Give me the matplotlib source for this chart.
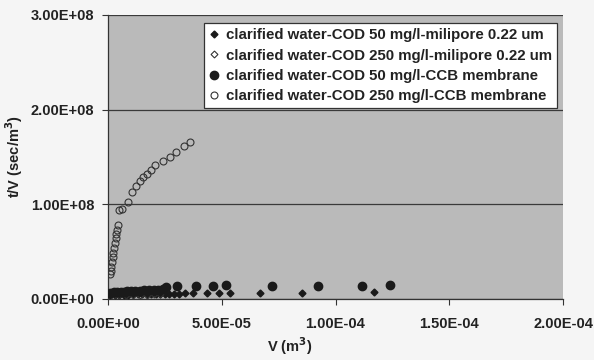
import matplotlib
matplotlib.use("Agg")
import matplotlib.pyplot as plt
from matplotlib.ticker import FixedLocator, FuncFormatter

plt.rcParams['font.family'] = ['Liberation Sans', 'DejaVu Sans']
plt.rcParams['font.weight'] = 'bold'

# Filtered volume V (m^3) and t/V (sec/m^3) for each run
v_mili50 = [0.1e-5, 0.3e-5, 0.5e-5, 0.7e-5, 0.9e-5, 1.1e-5, 1.3e-5, 1.5e-5, 1.7e-5, 1.9e-5,
            2.1e-5, 2.3e-5, 2.5e-5, 2.7e-5, 2.9e-5, 3.1e-5, 3.38e-5, 3.73e-5, 4.33e-5, 4.9e-5,
            5.35e-5, 6.67e-5, 8.54e-5, 11.68e-5]
tv_mili50 = [4.0e6, 4.2e6, 4.3e6, 4.5e6, 4.6e6, 4.8e6, 4.9e6, 5.0e6, 5.1e6, 5.2e6,
             5.3e6, 5.4e6, 5.5e6, 5.6e6, 5.7e6, 5.8e6, 6.0e6, 6.0e6, 6.2e6, 6.3e6,
             6.3e6, 6.0e6, 6.6e6, 7.7e6]

v_mili250 = [0.2e-5, 0.5e-5, 0.8e-5, 1.1e-5, 1.4e-5, 1.7e-5, 2.0e-5, 2.3e-5]
tv_mili250 = [3.5e6, 3.8e6, 4.0e6, 4.2e6, 4.4e6, 4.6e6, 4.8e6, 5.0e6]

v_ccb50 = [0.1e-5, 0.25e-5, 0.4e-5, 0.55e-5, 0.7e-5, 0.85e-5, 1.0e-5, 1.2e-5, 1.4e-5, 1.6e-5,
           1.8e-5, 2.0e-5, 2.2e-5, 2.4e-5, 2.57e-5, 3.03e-5, 3.86e-5, 4.6e-5, 5.2e-5,
           7.21e-5, 9.22e-5, 11.17e-5, 12.4e-5]
tv_ccb50 = [6.5e6, 7.0e6, 7.2e6, 7.5e6, 7.8e6, 8.0e6, 8.2e6, 8.5e6, 8.8e6, 9.0e6,
            9.3e6, 9.6e6, 1.0e7, 1.05e7, 1.3e7, 1.4e7, 1.35e7, 1.4e7, 1.45e7,
            1.35e7, 1.37e7, 1.42e7, 1.47e7]

v_ccb250 = [0.09e-5, 0.12e-5, 0.15e-5, 0.18e-5, 0.21e-5, 0.24e-5, 0.27e-5, 0.30e-5, 0.33e-5,
            0.36e-5, 0.39e-5, 0.42e-5, 0.50e-5, 0.60e-5, 0.89e-5, 1.04e-5, 1.23e-5, 1.40e-5,
            1.55e-5, 1.72e-5, 1.87e-5, 2.06e-5, 2.43e-5, 2.72e-5, 3.01e-5, 3.33e-5, 3.60e-5]
tv_ccb250 = [2.6e7, 3.0e7, 3.4e7, 3.9e7, 4.4e7, 4.9e7, 5.4e7, 5.9e7, 6.4e7,
             6.9e7, 7.3e7, 7.8e7, 9.4e7, 9.5e7, 1.02e8, 1.13e8, 1.19e8, 1.245e8,
             1.29e8, 1.32e8, 1.36e8, 1.42e8, 1.46e8, 1.50e8, 1.55e8, 1.62e8, 1.66e8]

labels = [
    "clarified water-COD 50 mg/l-milipore 0.22 um",
    "clarified water-COD 250 mg/l-milipore 0.22 um",
    "clarified water-COD 50 mg/l-CCB membrane",
    "clarified water-COD 250 mg/l-CCB membrane",
]
x_ticks = [0.0, 5e-5, 1e-4, 1.5e-4, 2e-4]
y_ticks = [0.0, 1e8, 2e8, 3e8]

fig = plt.figure(figsize=(5.94, 3.6), dpi=100, facecolor='#f5f5f5')
ax = fig.add_axes([108 / 594, 61 / 360, 455 / 594, 284 / 360])
ax.set_facecolor('#bababa')

ax.plot(v_mili50, tv_mili50, linestyle='none', marker='D', ms=3.5,
        mfc='#1a1a1a', mec='#1a1a1a', label=labels[0], zorder=3)
ax.plot(v_mili250, tv_mili250, linestyle='none', marker='D', ms=3.5,
        mfc='none', mec='#333333', mew=0.8, label=labels[1], zorder=3)
ax.plot(v_ccb50, tv_ccb50, linestyle='none', marker='o', ms=6,
        mfc='#1a1a1a', mec='#1a1a1a', label=labels[2], zorder=3)
ax.plot(v_ccb250, tv_ccb250, linestyle='none', marker='o', ms=5,
        mfc='none', mec='#333333', mew=0.8, label=labels[3], zorder=3)

ax.set_xlim(0, 2e-4)
ax.set_ylim(0, 3e8)
ax.xaxis.set_major_locator(FixedLocator(x_ticks))
ax.yaxis.set_major_locator(FixedLocator(y_ticks))

def sci(v, pos):
    return f"{v:.2E}"

ax.xaxis.set_major_formatter(FuncFormatter(sci))
ax.yaxis.set_major_formatter(FuncFormatter(sci))
ax.tick_params(axis='both', direction='out', length=4, width=0.8, color='#333333',
               labelsize=10.5, labelcolor='#222222')
ax.tick_params(axis='x', pad=9)
ax.tick_params(axis='y', pad=6)
for lab in ax.get_xticklabels() + ax.get_yticklabels():
    lab.set_fontweight('bold')

ax.grid(axis='y', color='#3a3a3a', linewidth=0.9)
ax.set_axisbelow(True)
for side in ('top', 'right'):
    ax.spines[side].set_visible(False)
for side in ('left', 'bottom'):
    ax.spines[side].set_color('#333333')
    ax.spines[side].set_linewidth(0.9)

ax.set_xlabel("V (m$^\\mathbf{3}$)", fontsize=10.5, fontweight='bold', color='#222222')
ax.xaxis.set_label_coords((290 - 108) / 455, -36 / 284)
ax.set_ylabel("t/V (sec/m$^\\mathbf{3}$)", fontsize=10.5, fontweight='bold', color='#222222', labelpad=4)

leg = ax.legend(loc='upper right', bbox_to_anchor=(557 / 594, 337 / 360),
                bbox_transform=fig.transFigure, frameon=True, fancybox=False,
                edgecolor='#333333', facecolor='white', framealpha=1.0, borderaxespad=0,
                handlelength=0.6, handletextpad=0.5, borderpad=0.35, labelspacing=0.42,
                prop={'weight': 'bold', 'size': 10.8})
leg.get_frame().set_linewidth(0.9)
for t in leg.get_texts():
    t.set_color('#222222')

fig.savefig("out.png", dpi=100, facecolor=fig.get_facecolor())
